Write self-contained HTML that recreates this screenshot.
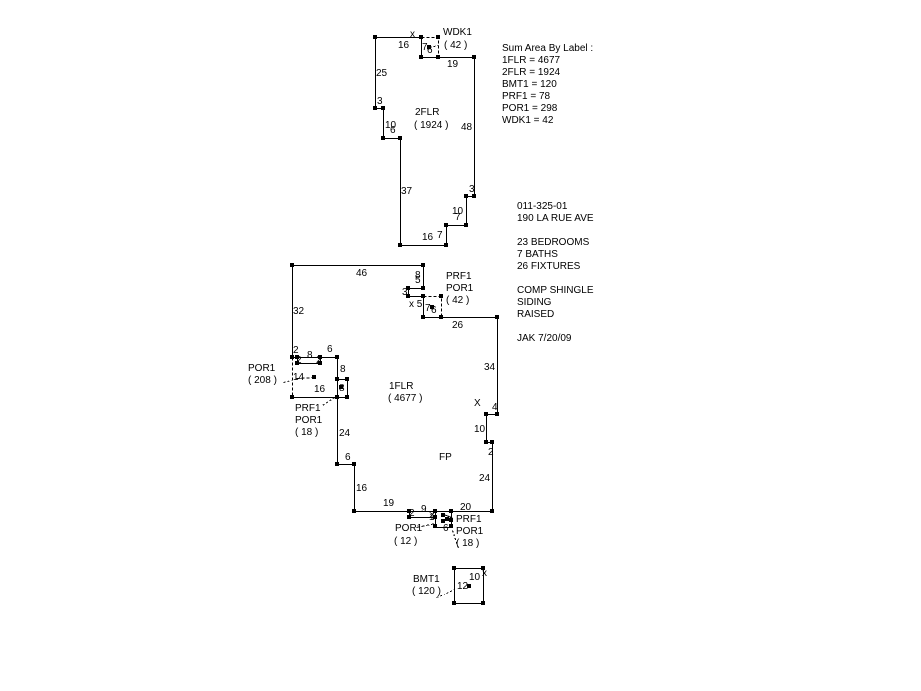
<!DOCTYPE html>
<html><head><meta charset="utf-8"><style>
html,body{margin:0;padding:0;background:#fff;}
svg{display:block;}
text{font-family:"Liberation Sans",sans-serif;font-size:10px;fill:#000;}
</style></head><body>
<svg width="921" height="691" viewBox="0 0 921 691" xmlns="http://www.w3.org/2000/svg">
<g fill="none" stroke="#000" stroke-width="1" shape-rendering="crispEdges" transform="translate(0.5,0.5)">
<polyline points="421,37 375,37 375,108 383,108 383,138 400,138 400,245 446,245 446,225 466,225 466,196 474,196 474,57 421,57 421,37"/>
<polyline points="421,37 438,37 438,57" stroke-dasharray="3,2"/>
<line x1="429" y1="47" x2="438" y2="45" stroke-dasharray="2,2"/>
<polyline points="292,357 292,265 423,265 423,288 408,288 408,296 423,296 423,317 497,317 497,414 486,414 486,442 492,442 492,511 354,511 354,464 337,464 337,357 292,357"/>
<polyline points="292,397 337,397"/>
<polyline points="297,357 297,363 320,363 320,357"/>
<polyline points="292,357 292,397" stroke-dasharray="3,2"/>
<polyline points="337,379 347,379 347,397 337,397"/>
<polyline points="423,296 441,296 441,317" stroke-dasharray="3,2"/>
<line x1="314" y1="377" x2="296" y2="378" stroke-dasharray="3,2"/>
<line x1="283" y1="382" x2="291" y2="380" stroke-dasharray="2,2"/>
<line x1="334" y1="397" x2="322" y2="405" stroke-dasharray="2,2"/>
<polyline points="409,511 409,517 435,517"/>
<polyline points="435,511 435,527 451,527 451,511" />
<polyline points="443,514 451,517 443,521"/>
<line x1="416" y1="527" x2="435" y2="523" stroke-dasharray="3,2"/>
<line x1="452" y1="530" x2="458" y2="548" stroke-dasharray="2,2"/>
<rect x="454" y="568" width="29" height="35"/>
<line x1="446" y1="593" x2="454" y2="589" stroke-dasharray="2,2"/>
<line x1="436" y1="597" x2="444" y2="594" stroke-dasharray="2,2"/>
</g>
<g fill="#000">
<rect x="373" y="35" width="4" height="4"/><rect x="419" y="35" width="4" height="4"/><rect x="436" y="35" width="4" height="4"/>
<rect x="419" y="55" width="4" height="4"/><rect x="436" y="55" width="4" height="4"/><rect x="472" y="55" width="4" height="4"/>
<rect x="427" y="45" width="4" height="4"/>
<rect x="373" y="106" width="4" height="4"/><rect x="381" y="106" width="4" height="4"/>
<rect x="381" y="136" width="4" height="4"/><rect x="398" y="136" width="4" height="4"/>
<rect x="472" y="194" width="4" height="4"/><rect x="464" y="194" width="4" height="4"/>
<rect x="464" y="223" width="4" height="4"/><rect x="444" y="223" width="4" height="4"/>
<rect x="444" y="243" width="4" height="4"/><rect x="398" y="243" width="4" height="4"/>
<rect x="290" y="263" width="4" height="4"/><rect x="421" y="263" width="4" height="4"/>
<rect x="421" y="286" width="4" height="4"/><rect x="406" y="286" width="4" height="4"/>
<rect x="406" y="294" width="4" height="4"/><rect x="421" y="294" width="4" height="4"/><rect x="439" y="294" width="4" height="4"/>
<rect x="430" y="305" width="4" height="4"/>
<rect x="421" y="315" width="4" height="4"/><rect x="439" y="315" width="4" height="4"/><rect x="495" y="315" width="4" height="4"/>
<rect x="290" y="355" width="4" height="4"/><rect x="295" y="355" width="4" height="4"/><rect x="318" y="355" width="4" height="4"/><rect x="335" y="355" width="4" height="4"/>
<rect x="295" y="361" width="4" height="4"/><rect x="318" y="361" width="4" height="4"/>
<rect x="312" y="375" width="4" height="4"/>
<rect x="335" y="377" width="4" height="4"/><rect x="345" y="377" width="4" height="4"/>
<rect x="339" y="385" width="4" height="4"/>
<rect x="290" y="395" width="4" height="4"/><rect x="335" y="395" width="4" height="4"/><rect x="345" y="395" width="4" height="4"/>
<rect x="495" y="412" width="4" height="4"/><rect x="484" y="412" width="4" height="4"/>
<rect x="484" y="440" width="4" height="4"/><rect x="490" y="440" width="4" height="4"/>
<rect x="335" y="462" width="4" height="4"/><rect x="352" y="462" width="4" height="4"/>
<rect x="352" y="509" width="4" height="4"/><rect x="407" y="509" width="4" height="4"/><rect x="433" y="509" width="4" height="4"/><rect x="449" y="509" width="4" height="4"/><rect x="490" y="509" width="4" height="4"/>
<rect x="407" y="515" width="4" height="4"/><rect x="433" y="515" width="4" height="4"/><rect x="441" y="513" width="4" height="4"/><rect x="445" y="517" width="4" height="4"/><rect x="441" y="519" width="4" height="4"/><rect x="449" y="518" width="4" height="4"/>
<rect x="433" y="524" width="4" height="4"/><rect x="449" y="524" width="4" height="4"/>
<rect x="452" y="566" width="4" height="4"/><rect x="481" y="566" width="4" height="4"/>
<rect x="452" y="601" width="4" height="4"/><rect x="481" y="601" width="4" height="4"/>
<rect x="467" y="584" width="4" height="4"/>
</g>
<g>
<text x="410" y="37">x</text>
<text x="443" y="35">WDK1</text>
<text x="444" y="48">( 42 )</text>
<text x="398" y="48">16</text>
<text x="422" y="50">7</text><text x="427" y="53">6</text>
<text x="447" y="67">19</text>
<text x="376" y="76">25</text>
<text x="377" y="104">3</text>
<text x="415" y="115">2FLR</text>
<text x="414" y="128">( 1924 )</text>
<text x="461" y="130">48</text>
<text x="385" y="128">10</text><text x="390" y="133">6</text>
<text x="401" y="194">37</text>
<text x="469" y="192">3</text>
<text x="452" y="214">10</text><text x="455" y="220">7</text>
<text x="422" y="240">16</text><text x="437" y="238">7</text>
<text x="502" y="51">Sum Area By Label :</text>
<text x="502" y="63">1FLR = 4677</text>
<text x="502" y="75">2FLR = 1924</text>
<text x="502" y="87">BMT1 = 120</text>
<text x="502" y="99">PRF1 = 78</text>
<text x="502" y="111">POR1 = 298</text>
<text x="502" y="123">WDK1 = 42</text>
<text x="517" y="209">011-325-01</text>
<text x="517" y="221">190 LA RUE AVE</text>
<text x="517" y="245">23 BEDROOMS</text>
<text x="517" y="257">7 BATHS</text>
<text x="517" y="269">26 FIXTURES</text>
<text x="517" y="293">COMP SHINGLE</text>
<text x="517" y="305">SIDING</text>
<text x="517" y="317">RAISED</text>
<text x="517" y="341">JAK 7/20/09</text>
<text x="356" y="276">46</text>
<text x="415" y="278">8</text><text x="415" y="283">5</text>
<text x="446" y="279">PRF1</text>
<text x="446" y="291">POR1</text>
<text x="446" y="303">( 42 )</text>
<text x="402" y="295">3</text>
<text x="409" y="307">x 5</text>
<text x="425" y="311">7</text><text x="431" y="313">6</text>
<text x="452" y="328">26</text>
<text x="293" y="314">32</text>
<text x="484" y="370">34</text>
<text x="293" y="353">2</text>
<text x="296" y="363">2</text>
<text x="307" y="358">8</text><text x="316" y="363">2</text>
<text x="327" y="352">6</text>
<text x="340" y="372">8</text>
<text x="248" y="371">POR1</text>
<text x="248" y="383">( 208 )</text>
<text x="293" y="380">14</text>
<text x="314" y="392">16</text>
<text x="339" y="391">8</text>
<text x="389" y="389">1FLR</text>
<text x="388" y="401">( 4677 )</text>
<text x="474" y="406">X</text>
<text x="492" y="410">4</text>
<text x="295" y="411">PRF1</text>
<text x="295" y="423">POR1</text>
<text x="295" y="435">( 18 )</text>
<text x="339" y="436">24</text>
<text x="474" y="432">10</text>
<text x="488" y="455">2</text>
<text x="439" y="460">FP</text>
<text x="345" y="460">6</text>
<text x="479" y="481">24</text>
<text x="356" y="491">16</text>
<text x="383" y="506">19</text>
<text x="409" y="516">2</text>
<text x="421" y="512">9</text><text x="429" y="518">2</text>
<text x="460" y="510">20</text>
<text x="429" y="520">1</text>
<text x="456" y="522">PRF1</text>
<text x="456" y="534">POR1</text>
<text x="456" y="546">( 18 )</text>
<text x="395" y="531">POR1</text>
<text x="394" y="544">( 12 )</text>
<text x="443" y="531">6</text>
<text x="413" y="582">BMT1</text>
<text x="412" y="594">( 120 )</text>
<text x="469" y="580">10</text>
<text x="482" y="576">x</text>
<text x="457" y="589">12</text>
</g>
</svg>
</body></html>
